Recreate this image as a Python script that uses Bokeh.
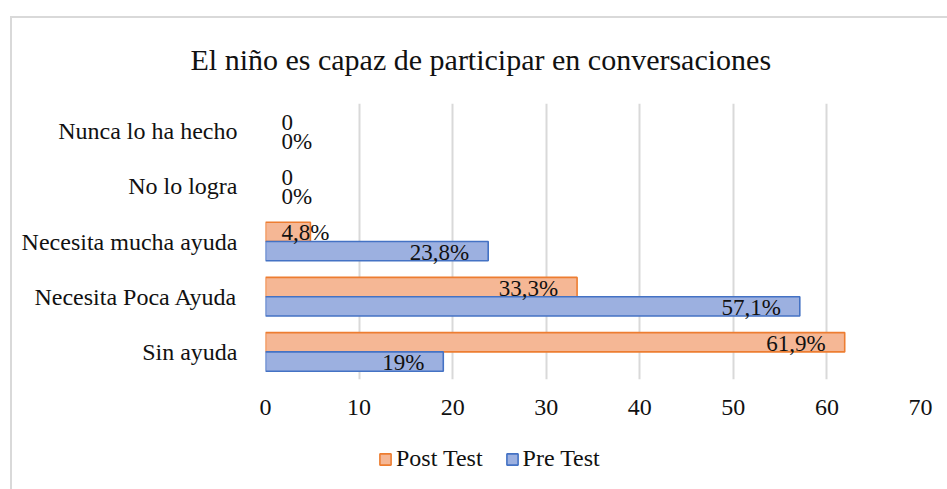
from bokeh.plotting import figure
from bokeh.layouts import column
from bokeh.models import ColumnDataSource, FactorRange, Legend, LegendItem, Title
from bokeh.transform import dodge
from bokeh.embed import file_html
from bokeh.resources import INLINE

# ---- data ----
categories = ["Nunca lo ha hecho", "No lo logra", "Necesita mucha ayuda",
              "Necesita Poca Ayuda", "Sin ayuda"]
post_test = [0, 0, 4.8, 33.3, 61.9]
pre_test = [0, 0, 23.8, 57.1, 19]
post_labels = ["0", "0", "4,8%", "33,3%", "61,9%"]
pre_labels = ["0%", "0%", "23,8%", "57,1%", "19%"]
x_ticks = [0, 10, 20, 30, 40, 50, 60, 70]
series_names = ["Post Test", "Pre Test"]
title_text = "El niño es capaz de participar en conversaciones"

FONT = "Liberation Serif, Times New Roman, serif"
TXT = "#111111"
POST_FILL, POST_LINE = "#f5b795", "#ed7d31"
PRE_FILL, PRE_LINE = "#9cb0e0", "#4472c4"


def label_cols(vals):
    lx = [0 if v < 10 else v for v in vals]
    al = ["left" if v < 10 else "right" for v in vals]
    xo = [16 if v < 10 else -19 for v in vals]
    la = [1.0 if v > 0 else 0.0 for v in vals]
    return lx, al, xo, la


plx, pal, pxo, pla = label_cols(post_test)
rlx, ral, rxo, rla = label_cols(pre_test)

src = ColumnDataSource(dict(
    cat=categories, post=post_test, pre=pre_test,
    post_txt=post_labels, pre_txt=pre_labels,
    plx=plx, pal=pal, pxo=pxo, pla=pla, rlx=rlx, ral=ral, rxo=rxo, rla=rla,
))


def strip(height):
    f = figure(width=935, height=height, x_range=(0, 1), y_range=(0, 1),
               output_backend="svg", toolbar_location=None,
               x_axis_location=None, y_axis_location=None, min_border=0)
    f.outline_line_color = None
    f.grid.grid_line_color = None
    return f


# title strip
tf = strip(85)
tf.title = Title(text=title_text, align="left", offset=-75, standoff=44,
                 text_font=FONT, text_font_size="30px", text_font_style="normal",
                 text_color=TXT)

# main chart
p = figure(width=935, height=327,
           y_range=FactorRange(factors=categories[::-1]),
           x_range=(0, 70),
           output_backend="svg", toolbar_location=None,
           min_border_left=253, min_border_right=27,
           min_border_top=0, min_border_bottom=51)
p.outline_line_color = None
p.background_fill_color = "white"
p.border_fill_color = "white"

BH = 0.35
D = 0.175
p.hbar(y=dodge("cat", D, range=p.y_range), right="post", left=0, height=BH,
       source=src, fill_color=POST_FILL, line_color=POST_LINE, line_alpha="pla",
       line_width=1.6)
p.hbar(y=dodge("cat", -D, range=p.y_range), right="pre", left=0, height=BH,
       source=src, fill_color=PRE_FILL, line_color=PRE_LINE, line_alpha="rla",
       line_width=1.6)

p.text(x="plx", y=dodge("cat", D, range=p.y_range), text="post_txt", source=src,
       text_align="pal", x_offset="pxo", y_offset=1, text_baseline="middle",
       text_font=FONT, text_font_size="23px", text_color=TXT)
p.text(x="rlx", y=dodge("cat", -D, range=p.y_range), text="pre_txt", source=src,
       text_align="ral", x_offset="rxo", y_offset=1, text_baseline="middle",
       text_font=FONT, text_font_size="23px", text_color=TXT)

p.xaxis.ticker = x_ticks
for ax in (p.xaxis, p.yaxis):
    ax.axis_line_color = None
    ax.major_tick_line_color = None
    ax.minor_tick_line_color = None
    ax.major_label_text_font = FONT
    ax.major_label_text_font_size = "24px"
    ax.major_label_text_color = TXT
p.xaxis.major_label_standoff = 14
p.yaxis.major_label_standoff = 22

p.xgrid.grid_line_color = "#d9d9d9"
p.xgrid.grid_line_width = 2
p.ygrid.grid_line_color = None

# legend strip
lg = strip(59)
proxy = ColumnDataSource(dict(y=[float("nan")], right=[float("nan")]))
lr_post = lg.hbar(y="y", right="right", left=0, height=0.1, source=proxy,
                  fill_color=POST_FILL, line_color=POST_LINE, line_width=1.6)
lr_pre = lg.hbar(y="y", right="right", left=0, height=0.1, source=proxy,
                 fill_color=PRE_FILL, line_color=PRE_LINE, line_width=1.6)
legend = Legend(items=[LegendItem(label=series_names[0], renderers=[lr_post]),
                       LegendItem(label=series_names[1], renderers=[lr_pre])],
                orientation="horizontal", location=(113, 17),
                padding=0, margin=0, spacing=22, label_standoff=4,
                glyph_width=14, glyph_height=14,
                label_text_font=FONT, label_text_font_size="24px",
                label_text_color=TXT, border_line_color=None,
                background_fill_alpha=0)
lg.add_layout(legend, "center")

layout = column(tf, p, lg, spacing=0)
layout.margin = (16, 0, 0, 10)
layout.styles = {"border-top": "2px solid #d9d9d9", "border-left": "2px solid #d9d9d9"}

open("out.html", "w").write(file_html(layout, INLINE))
